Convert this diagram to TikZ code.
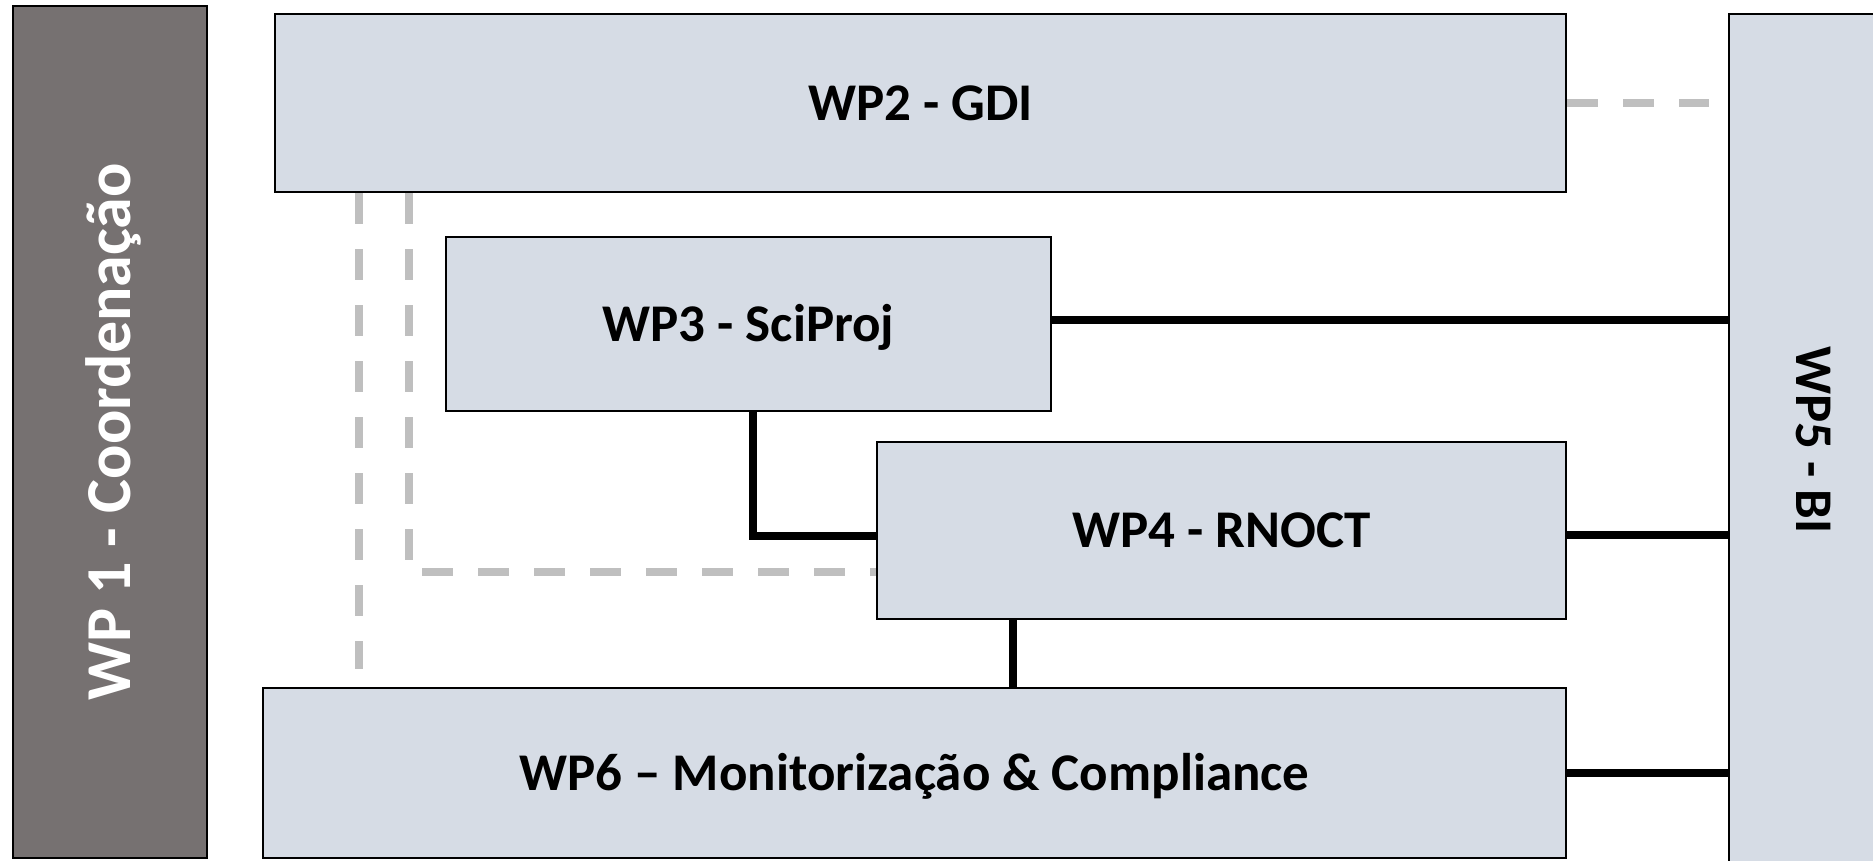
\documentclass[tikz,border=0pt]{standalone}
\usepackage{fontspec}
\setmainfont{Carlito}
\usetikzlibrary{calc}
\definecolor{boxfill}{HTML}{D6DCE5}
\definecolor{wpgray}{HTML}{767171}
\definecolor{dashgray}{HTML}{BFBFBF}
\begin{document}
\begin{tikzpicture}[x=1pt,y=-1pt,
  wpbox/.style={draw=black, line width=2.5pt, fill=boxfill, inner sep=0pt,
    font=\fontsize{53}{60}\selectfont\bfseries, text height=34pt, text depth=0pt},
  darkbox/.style={wpbox, fill=wpgray, text=white,
    font=\fontsize{64}{72}\selectfont\bfseries, text height=41pt},
  link/.style={draw=black, line width=8pt},
  dashlink/.style={draw=dashgray, line width=7.5pt, dash pattern=on 31pt off 25pt}]
\useasboundingbox (0,0) rectangle (1873,860);
\clip (0,0) rectangle (1873,860);
% boxes
\node[darkbox, rotate=90, minimum width=852pt, minimum height=194pt] (wp1) at (110,432) {WP 1 - Coordenação};
\node[wpbox, minimum width=1291pt, minimum height=178pt] (wp2) at (920.5,103) {WP2 - GDI};
\node[wpbox, minimum width=605pt, minimum height=174pt] (wp3) at (748.5,324) {WP3 - SciProj};
\node[wpbox, minimum width=689pt, minimum height=177pt] (wp4) at (1221.5,530.5) {WP4 - RNOCT};
\node[wpbox, minimum width=1303pt, minimum height=170pt] (wp6) at (914.5,773) {WP6 – Monitorização \& Compliance};
\node[wpbox, rotate=-90, minimum width=852pt, minimum height=168pt] (wp5) at (1813,440) {WP5 - BI};
% helper coordinates
\coordinate (c34) at (753,536);
\coordinate (c46) at (1013,0);
\coordinate (d1end) at (359,669);
\coordinate (d2c) at (409,572);
\coordinate (d3end) at (1709,103);
\coordinate (r3) at (0,320);
\coordinate (r4) at (0,535);
% dashed grey connectors
\draw[dashlink] (wp2.south -| d1end) -- (d1end);
\draw[dashlink] (wp2.south -| d2c) |- (wp4.west |- d2c);
\draw[dashlink] (wp2.east) -- (d3end);
% solid connectors
\draw[link] (wp3.east |- r3) -- (wp5.south |- r3);
\draw[link] (wp4.east |- r4) -- (wp5.south |- r4);
\draw[link] (wp6.east) -- (wp6.east -| wp5.south);
\draw[link] (wp3.south -| c34) |- (wp4.west |- c34);
\draw[link] (wp4.south -| c46) -- (wp6.north -| c46);
\end{tikzpicture}
\end{document}
